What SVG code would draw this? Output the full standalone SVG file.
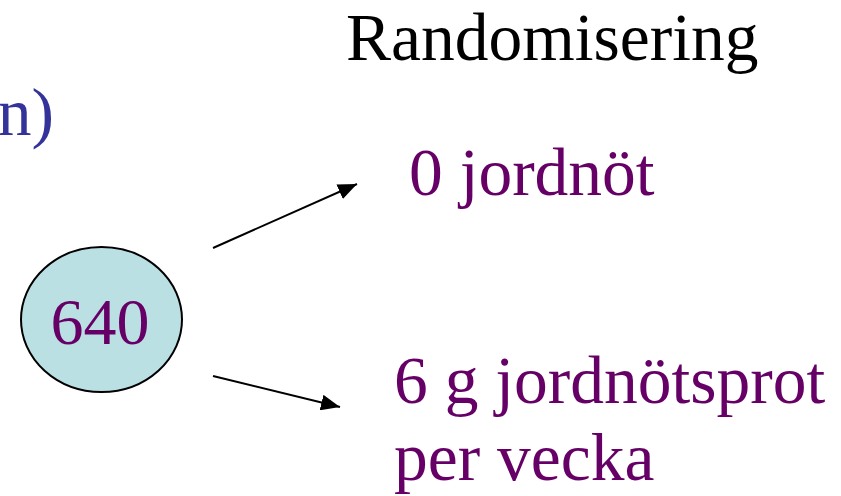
<svg xmlns="http://www.w3.org/2000/svg" width="841" height="496" viewBox="0 0 841 496">
<style>
text{font-family:"Liberation Serif","Times New Roman",serif;font-size:67.5px}
.p{fill:#660066}
.b{fill:#333399}
.k{fill:#000}
.c{stroke:#000;stroke-width:2;fill:none}
</style>
<defs>
<marker id="a" viewBox="0 0 12 10" refX="12" refY="5" markerWidth="19" markerHeight="16" markerUnits="userSpaceOnUse" orient="auto">
<path d="M0,0 L12,5 L0,10 z" fill="#000"/>
</marker>
</defs>
<rect width="841" height="496" fill="#fff"/>
<g id="title"><text class="k" x="346" y="60">Randomisering</text></g>
<g id="cut"><text class="b" x="54" y="135" text-anchor="end">n)</text></g>
<g id="n640">
<ellipse cx="101.5" cy="319.5" rx="80.5" ry="72.5" fill="#BBE0E3" stroke="#000" stroke-width="2"/>
<text class="p" x="100" y="344" text-anchor="middle" style="font-size:66px">640</text>
</g>
<g id="arm0"><text class="p" x="409" y="195">0 jordnöt</text></g>
<g id="arm6"><text class="p" x="394" y="403">6 g jordnötsprot</text><text class="p" x="394" y="480">per vecka</text></g>
<g id="connectors">
<line class="c" x1="213" y1="248" x2="357" y2="184" marker-end="url(#a)"/>
<line class="c" x1="213" y1="376" x2="340" y2="407" marker-end="url(#a)"/>
</g>
</svg>
